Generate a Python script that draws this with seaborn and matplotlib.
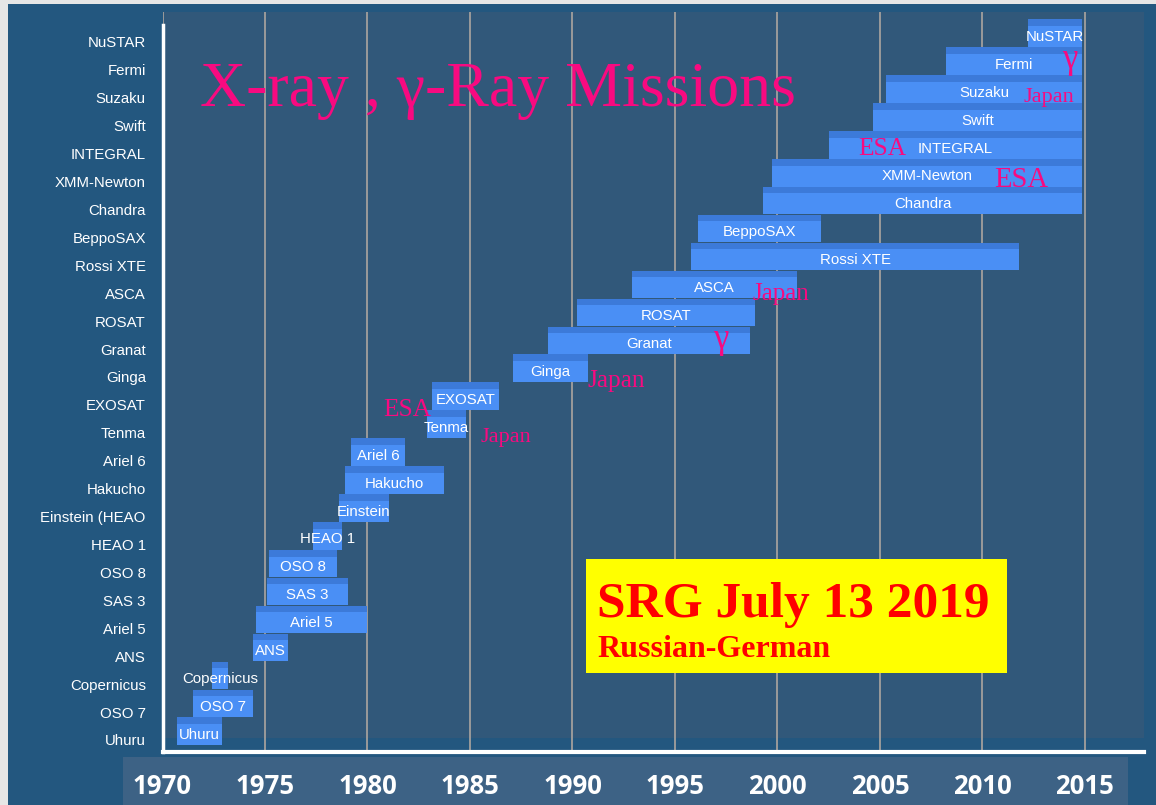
import numpy as np
import pandas as pd
import matplotlib
matplotlib.use("Agg")
import matplotlib.pyplot as plt
from matplotlib.patches import Rectangle
import seaborn as sns

# ---------------- data ----------------
missions = ["Uhuru", "OSO 7", "Copernicus", "ANS", "Ariel 5", "SAS 3", "OSO 8", "HEAO 1",
            "Einstein (HEAO", "Hakucho", "Ariel 6", "Tenma", "EXOSAT", "Ginga", "Granat",
            "ROSAT", "ASCA", "Rossi XTE", "BeppoSAX", "Chandra", "XMM-Newton", "INTEGRAL",
            "Swift", "Suzaku", "Fermi", "NuSTAR"]
bar_labels = ["Uhuru", "OSO 7", "Copernicus", "ANS", "Ariel 5", "SAS 3", "OSO 8", "HEAO 1",
              "Einstein", "Hakucho", "Ariel 6", "Tenma", "EXOSAT", "Ginga", "Granat",
              "ROSAT", "ASCA", "Rossi XTE", "BeppoSAX", "Chandra", "XMM-Newton", "INTEGRAL",
              "Swift", "Suzaku", "Fermi", "NuSTAR"]
start_year = [1970.7, 1971.5, 1972.4, 1974.4, 1974.55, 1975.1, 1975.2, 1977.35,
              1978.6, 1978.9, 1979.2, 1982.9, 1983.15, 1987.1, 1988.8,
              1990.2, 1992.9, 1995.8, 1996.1, 1999.3, 1999.75, 2002.5,
              2004.65, 2005.3, 2008.2, 2012.2]
end_year = [1972.9, 1974.4, 1973.2, 1976.1, 1980.0, 1979.05, 1978.5, 1978.75,
            1981.05, 1983.75, 1981.85, 1984.8, 1986.4, 1990.75, 1998.65,
            1998.9, 2000.95, 2011.8, 2002.1, 2014.85, 2014.85, 2014.85,
            2014.85, 2014.85, 2014.85, 2014.85]
year_ticks = [1970, 1975, 1980, 1985, 1990, 1995, 2000, 2005, 2010, 2015]

title_text = "X-ray , \u03b3-Ray Missions"
note_text = ["\u03b3", "Japan", "ESA", "ESA", "Japan", "\u03b3", "Japan", "ESA", "Japan"]
note_x = [2013.87, 2011.98, 2003.93, 2010.56, 1998.76, 1996.85, 1990.71, 1980.76, 1985.49]
note_y = [24.07, 22.85, 20.95, 19.81, 15.76, 14.04, 12.64, 11.6, 10.67]
note_size = [25, 16, 18.3, 20.6, 18, 25, 18.3, 18.3, 16]
srg_title = "SRG July 13 2019"
srg_sub = "Russian-German"

df = pd.DataFrame({"mission": missions, "label": bar_labels,
                   "start": start_year, "end": end_year})
df["duration"] = df["end"] - df["start"]
df["row"] = np.arange(len(df))

# ---------------- style ----------------
sns.set_theme(style="white")
plt.rcParams["font.family"] = ["Liberation Sans", "DejaVu Sans"]

OUTER = "#23577f"
PLOT_BG = "#31587a"
BAND = "#3d6285"
BAR = "#4a8ff5"
BAR_TOP = "#3c7ad9"
PINK = "#f80a80"
GRID = "#9a9a9a"

W, H = 1156, 805
fig = plt.figure(figsize=(W / 100, H / 100), dpi=100)
fig.patch.set_facecolor(OUTER)

# light frame at the top and left edges of the slide
fig.patches.append(Rectangle((0, 1 - 4 / H), 1, 4 / H, transform=fig.transFigure,
                             facecolor="#e6e6e6", edgecolor="none", zorder=-2))
fig.patches.append(Rectangle((0, 0), 8 / W, 1, transform=fig.transFigure,
                             facecolor="#e6e6e6", edgecolor="none", zorder=-2))
# lighter band behind the year labels
fig.patches.append(Rectangle((123 / W, 0), (1128 - 123) / W, 48 / H, transform=fig.transFigure,
                             facecolor=BAND, edgecolor="none", zorder=-1))

ax = fig.add_axes([162.5 / W, (H - 752) / H, (1144 - 162.5) / W, (752 - 12) / H])
ax.set_facecolor(PLOT_BG)
ax.add_patch(Rectangle((0, 0), 1, 14 / 740, transform=ax.transAxes,
                       facecolor=OUTER, edgecolor="none", zorder=0.1))

BAR_SHIFT = 0.313
BAR_H = 0.985
TOP_H = 0.235

# main bars (Gantt style)
ax.barh(df["row"] + BAR_SHIFT, df["duration"], left=df["start"], height=BAR_H,
        color=BAR, edgecolor="none", zorder=2)
# darker top strip of each bar
ax.barh(df["row"] + BAR_SHIFT + BAR_H / 2 - TOP_H / 2, df["duration"], left=df["start"],
        height=TOP_H, color=BAR_TOP, edgecolor="none", zorder=2.1)

for r, lab, s, e in zip(df["row"], df["label"], df["start"], df["end"]):
    ax.text((s + e) / 2, r + 0.18, lab, ha="center", va="center", color="white",
            fontsize=10.8, zorder=3)

ax.set_xlim(1970, 2017.88)
ax.set_ylim(-0.43, 26.07)

ax.set_xticks(year_ticks)
ax.set_xticklabels([str(y) for y in year_ticks])
ax.set_yticks(df["row"])
ax.set_yticklabels(df["mission"])

ax.grid(axis="x", color=GRID, linewidth=1.4)
ax.grid(axis="y", visible=False)
ax.set_axisbelow(True)

for lab in ax.get_xticklabels():
    lab.set_fontfamily(["Open Sans", "DejaVu Sans"])
    lab.set_fontweight("bold")
    lab.set_fontsize(18.5)
    lab.set_color("white")
for lab in ax.get_yticklabels():
    lab.set_fontsize(10.8)
    lab.set_color("white")

ax.tick_params(axis="x", length=3, width=2, color="white", pad=12)
ax.tick_params(axis="y", length=0, pad=12)

for side in ["top", "right"]:
    ax.spines[side].set_visible(False)
ax.spines["left"].set_color("white")
ax.spines["left"].set_linewidth(2.5)
ax.spines["left"].set_bounds(-0.43, 25.6)
ax.spines["left"].set_zorder(2.5)
ax.spines["bottom"].set_color("white")
ax.spines["bottom"].set_linewidth(3)

# title and notes
ax.text(1971.83, 22.71, title_text, fontsize=46, color=PINK, ha="left", va="baseline",
        family=["Liberation Serif", "DejaVu Serif"], zorder=4)
for t, x, y, s in zip(note_text, note_x, note_y, note_size):
    ax.text(x, y, t, fontsize=s, color=PINK, ha="left", va="baseline",
            family=["Liberation Serif", "DejaVu Serif"], zorder=4)

# SRG launch box
fig.patches.append(Rectangle((586 / W, (H - 673) / H), (1007 - 586) / W, (673 - 559) / H,
                             transform=fig.transFigure, facecolor="#ffff00",
                             edgecolor="none", zorder=5))
fig.text(597 / W, (H - 617) / H, srg_title, fontsize=37, fontweight="bold", color="#ff0000",
         family=["Liberation Serif", "DejaVu Serif"], ha="left", va="baseline", zorder=6)
fig.text(597 / W, (H - 657) / H, srg_sub, fontsize=23, fontweight="bold", color="#ff0000",
         family=["Liberation Serif", "DejaVu Serif"], ha="left", va="baseline", zorder=6)

fig.savefig("out.png", dpi=100, facecolor=fig.get_facecolor())
